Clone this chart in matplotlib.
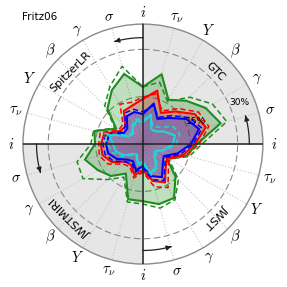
import numpy as np
import matplotlib.pyplot as plt

plt.rcParams['mathtext.fontset'] = 'cm'

# 24 spokes, clockwise from the top, 6 parameters per survey quadrant
params = [r'$i$', r'$\tau_\nu$', r'$Y$', r'$\beta$', r'$\gamma$', r'$\sigma$']
surveys = ['GTC', 'JWST', 'JWSTMIRI', 'SpitzerLR']
rings = [15, 30]

# relative uncertainty [%] at each spoke
green = [18.1, 22.9, 16.2, 19.4, 22.9, 25.5, 17.1, 14.3, 8.6, 14.6, 19.7, 19.7,
         18.1, 18.1, 10.8, 14.3, 16.5, 19.0, 15.2, 15.9, 9.8, 15.9, 19.7, 23.0]
green_d = [18.1, 20.3, 15.6, 21.0, 25.4, 27.5, 18.7, 15.2, 9.5, 15.9, 20.3, 21.0,
           19.0, 19.0, 12.1, 15.9, 21.9, 21.6, 16.5, 16.2, 10.2, 17.1, 21.0, 25.5]
red = [14.3, 17.5, 11.4, 14.6, 19.0, 20.6, 16.5, 13.3, 8.9, 10.2, 14.0, 12.1,
       8.3, 10.2, 7.6, 7.9, 11.4, 13.3, 13.3, 12.7, 8.3, 7.9, 12.1, 12.7]
red_d = [14.9, 16.5, 12.1, 15.9, 20.3, 21.6, 17.8, 14.3, 9.5, 11.4, 15.9, 14.0,
         8.9, 11.1, 8.3, 8.9, 12.7, 14.3, 14.0, 14.0, 8.9, 8.9, 14.6, 13.7]
blue = [9.5, 13.3, 9.2, 11.7, 15.9, 18.4, 15.2, 11.4, 7.6, 8.9, 12.1, 10.5,
        7.0, 8.6, 6.3, 7.0, 9.5, 11.4, 11.7, 11.1, 7.0, 7.0, 10.2, 10.5]
blue_d = [10.2, 12.7, 9.8, 12.7, 16.8, 19.4, 15.9, 12.4, 8.3, 9.8, 13.3, 11.7,
          7.6, 9.2, 7.0, 7.9, 10.8, 12.4, 12.7, 12.1, 7.6, 7.9, 11.4, 11.4]
cyan = [7.0, 9.5, 5.4, 5.7, 7.9, 10.5, 9.5, 7.0, 4.4, 5.1, 8.3, 9.5,
        5.7, 6.3, 3.8, 4.4, 7.0, 8.9, 9.5, 11.1, 5.1, 4.4, 6.3, 7.6]
cyan_d = [7.6, 9.8, 6.3, 7.6, 11.1, 12.1, 10.5, 7.6, 5.1, 5.7, 8.9, 10.2,
          6.3, 7.0, 4.4, 5.1, 7.9, 10.2, 11.1, 12.7, 5.7, 5.1, 7.0, 8.3]

rmax = 38.0
theta = np.deg2rad(np.arange(24) * 15.0)


def closed(vals):
    return np.append(theta, theta[0]), np.append(vals, vals[0])


fig = plt.figure(figsize=(2.87, 2.87), dpi=100)
ax = fig.add_axes([0.08, 0.08, 0.836, 0.836], projection='polar')
ax.set_theta_zero_location('N')
ax.set_theta_direction(-1)
ax.set_ylim(0, rmax)
ax.grid(False)
ax.set_xticks([])
ax.set_yticks([])
ax.spines['polar'].set_color('#8a8a8a')
ax.spines['polar'].set_linewidth(1.0)

# grey quadrants
ax.bar([np.pi / 4, 5 * np.pi / 4], rmax, width=np.pi / 2, bottom=0,
       color='#e6e6e6', edgecolor='none', zorder=0)

# spokes
for t in theta:
    ax.plot([t, t], [0, rmax], ls=':', color='#c4c4c4', lw=0.8, zorder=1)

# rings
tt = np.linspace(0, 2 * np.pi, 361)
for r in rings:
    ax.plot(tt, np.full_like(tt, r), ls=(0, (6, 3)), color='#8a8a8a', lw=0.8, zorder=1)

# curves: solid line + fill, dashed line without fill
series = [(green, green_d, '#1e8c1e', 'green', 0.25),
          (red, red_d, 'red', 'red', 0.25),
          (blue, blue_d, 'blue', 'blue', 0.25),
          (cyan, cyan_d, '#1fd6d6', None, 0)]
for z, (solid, dashed, col, fcol, alpha) in enumerate(series):
    t, r = closed(solid)
    if fcol:
        ax.fill(t, r, color=fcol, alpha=alpha, lw=0, zorder=2 + z * 0.1)
    ax.plot(t, r, color=col, lw=1.5, zorder=3 + z * 0.1)
    t, r = closed(dashed)
    ax.plot(t, r, color=col, lw=1.1, ls=(0, (3.5, 2)), zorder=3 + z * 0.1)

# quadrant dividers
for t in [0, np.pi / 2]:
    ax.plot([t, t], [0, rmax], color='#222222', lw=1.1, zorder=5)
    ax.plot([t + np.pi, t + np.pi], [0, rmax], color='#222222', lw=1.1, zorder=5)

# parameter labels
for k, t in enumerate(theta):
    ax.text(t, 41.6, params[k % 6], ha='center', va='center', fontsize=10.5)

# survey labels and direction arrows
rot = [-45, -135, 135, 45]
r_arc = 33.7
for q, name in enumerate(surveys):
    mid = np.deg2rad(45 + 90 * q)
    ax.text(mid, 32.6, name, ha='center', va='center', fontsize=8,
            rotation=rot[q], rotation_mode='anchor', zorder=6)
    start = np.deg2rad(90 * (q + 1))
    end = start - np.deg2rad(17)
    arc = np.linspace(start, end + np.deg2rad(2), 30)
    ax.plot(arc, np.full_like(arc, r_arc), color='#222222', lw=0.9, zorder=6)
    ax.annotate('', xy=(end, r_arc), xytext=(end + np.deg2rad(3), r_arc),
                arrowprops=dict(arrowstyle='-|>', color='#222222', lw=0.9,
                                mutation_scale=7), zorder=6)

# ring labels
for r in rings:
    ax.text(np.deg2rad(67), r + 3.3, f'{r}%', ha='center', va='center',
            fontsize=6.5, zorder=6)

fig.text(0.076, 0.942, 'Fritz06', ha='left', va='center', fontsize=7.5)

fig.savefig('out.png', dpi=100)
